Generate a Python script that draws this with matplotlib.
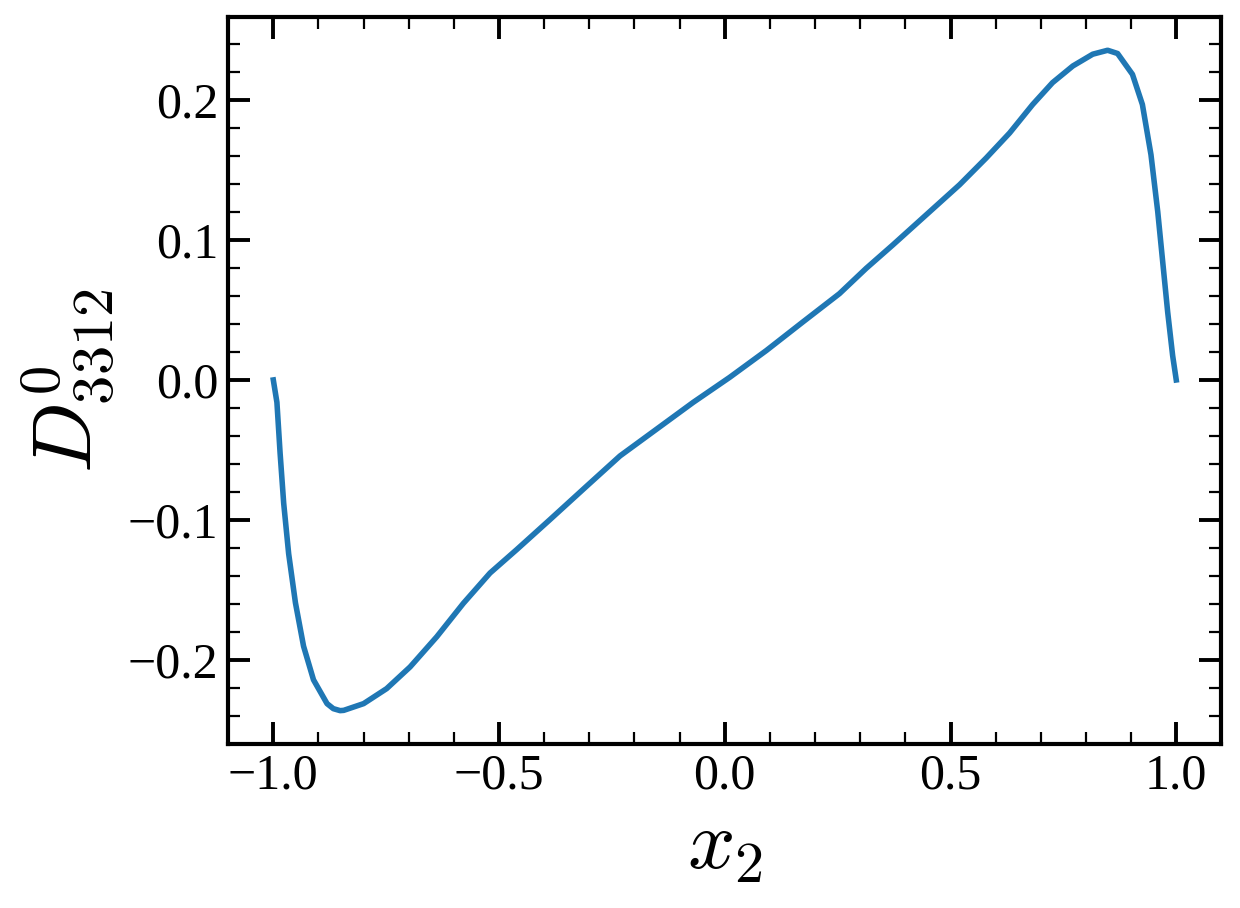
import numpy as np
import matplotlib
matplotlib.use('Agg')
import matplotlib.pyplot as plt
from matplotlib.ticker import MultipleLocator

# curve (x2, D^0_3312)
x2 = [-1.000, -0.992, -0.985, -0.977, -0.966, -0.951, -0.933, -0.911,
      -0.881, -0.867, -0.852, -0.844, -0.800, -0.749, -0.697, -0.638,
      -0.579, -0.520, -0.461, -0.387, -0.306, -0.232, -0.151, -0.070,
      0.011, 0.092, 0.173, 0.254, 0.313, 0.372, 0.446, 0.520,
      0.579, 0.631, 0.682, 0.726, 0.771, 0.815, 0.848, 0.870,
      0.903, 0.925, 0.944, 0.959, 0.970, 0.981, 0.992, 1.000]
D3312 = [0.000, -0.016, -0.052, -0.088, -0.124, -0.159, -0.190, -0.214,
         -0.231, -0.2346, -0.236, -0.2358, -0.231, -0.2203, -0.2048, -0.1833,
         -0.1594, -0.1378, -0.1211, -0.0996, -0.0758, -0.0542, -0.0351, -0.016,
         0.0019, 0.021, 0.0414, 0.0616, 0.0796, 0.0963, 0.1178, 0.1393,
         0.1584, 0.1763, 0.1966, 0.2122, 0.2241, 0.2325, 0.2353, 0.233,
         0.2181, 0.1966, 0.1608, 0.1201, 0.0843, 0.0485, 0.0174, 0.000]

plt.rcParams['font.family'] = ['Liberation Serif', 'DejaVu Serif']
plt.rcParams['mathtext.fontset'] = 'cm'

fig, ax = plt.subplots(figsize=(6.2, 4.54), dpi=200)
fig.subplots_adjust(left=0.184, right=0.985, top=0.981, bottom=0.181)

ax.plot(x2, D3312, color='#1f77b4', linewidth=2.0,
        solid_joinstyle='round')

ax.xaxis.set_major_locator(MultipleLocator(0.5))
ax.xaxis.set_minor_locator(MultipleLocator(0.1))
ax.yaxis.set_major_locator(MultipleLocator(0.1))
ax.yaxis.set_minor_locator(MultipleLocator(0.02))

ax.tick_params(which='both', direction='in', top=True, right=True,
               labelsize=18)
ax.tick_params(which='major', length=8, width=1.4)
ax.tick_params(which='minor', length=4.2, width=0.8)
for sp in ax.spines.values():
    sp.set_linewidth(1.5)

ax.set_xlabel(r'$x_2$', fontsize=30)
ax.set_ylabel(r'$D^{0}_{3312}$', fontsize=30)

plt.savefig('out.png', dpi=200)
plt.close()
